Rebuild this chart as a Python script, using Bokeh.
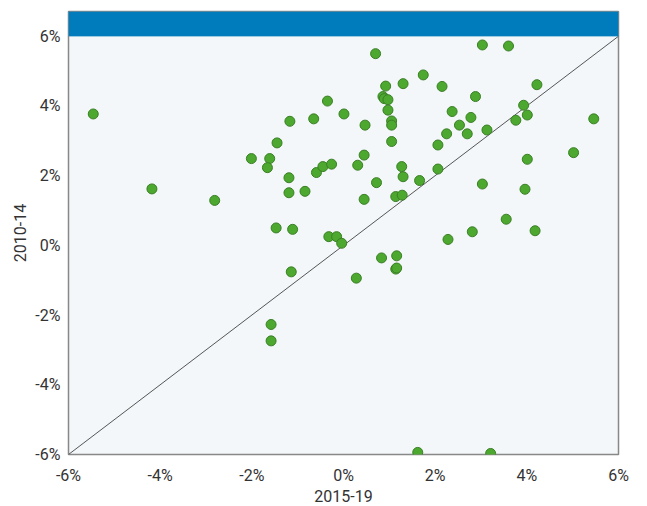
from bokeh.plotting import figure
from bokeh.models import Range1d, FixedTicker, BoxAnnotation, ColumnDataSource
from bokeh.embed import file_html
from bokeh.resources import INLINE

# 2015-19 (x) and 2010-14 (y) values, in percent
x_2015_19 = [-5.46, -4.18, -2.81, -2.01, -1.61, -1.66, -1.45, -1.17, -1.19, -1.19,
             -0.84, -1.47, -1.11, -1.14, -1.58, -1.58, -0.65, -0.59, -0.45, -0.35,
             0.01, -0.26, -0.32, -0.15, -0.04, 0.31, 0.28, 0.45, 0.47, 0.70,
             0.45, 0.72, 0.83, 0.86, 0.89, 0.97, 0.92, 0.97, 1.05, 1.05,
             1.05, 1.14, 1.16, 1.16, 1.14, 1.28, 1.27, 1.30, 1.30, 1.66,
             1.62, 1.74, 2.06, 2.06, 2.15, 2.25, 2.28, 2.37, 2.53, 2.70,
             2.78, 2.81, 2.88, 3.03, 3.03, 3.13, 3.21, 3.55, 3.60, 3.76,
             3.93, 3.96, 4.01, 4.01, 4.18, 4.22, 5.02, 5.46]
y_2010_14 = [3.77, 1.62, 1.29, 2.49, 2.49, 2.23, 2.94, 3.56, 1.94, 1.51,
             1.55, 0.50, 0.46, -0.76, -2.27, -2.74, 3.63, 2.09, 2.26, 4.14,
             3.77, 2.33, 0.25, 0.25, 0.06, 2.30, -0.94, 2.59, 3.45, 5.50,
             1.32, 1.80, -0.36, 4.27, 4.21, 4.18, 4.57, 3.88, 3.57, 3.45,
             2.98, -0.68, -0.65, -0.30, 1.40, 1.44, 2.26, 1.97, 4.64, 1.86,
             -5.94, 4.89, 2.88, 2.19, 4.56, 3.20, 0.17, 3.84, 3.45, 3.20,
             3.67, 0.39, 4.27, 5.75, 1.76, 3.31, -5.97, 0.75, 5.72, 3.59,
             4.02, 1.61, 3.74, 2.47, 0.42, 4.61, 2.66, 3.63]

ticks = [-6, -4, -2, 0, 2, 4, 6]
tick_labels = ["-6%", "-4%", "-2%", "0%", "2%", "4%", "6%"]
diag = [-6, 6]

FONT = "Roboto"
TXT = "#333333"

p = figure(width=639, height=506, output_backend="svg", toolbar_location=None,
           x_range=Range1d(-6, 6), y_range=Range1d(-6, 6.71),
           min_border_left=68, min_border_right=21, min_border_top=11, min_border_bottom=52)
p.background_fill_color = "#f3f7f9"
p.border_fill_color = "white"
p.outline_line_color = "#888888"
p.outline_line_width = 1.5
p.xgrid.grid_line_color = None
p.ygrid.grid_line_color = None

p.add_layout(BoxAnnotation(bottom=6, fill_color="#007bbb", fill_alpha=1.0,
                           line_color="#3d94c8", line_width=1))

p.line(diag, diag, line_color="#555555", line_width=1)

src = ColumnDataSource(dict(x=x_2015_19, y=y_2010_14))
p.scatter("x", "y", source=src, size=10, fill_color="#4ca82e", fill_alpha=1.0,
          line_color="#3b7f27", line_width=1)

labels = dict(zip(ticks, tick_labels))
for ax in (p.xaxis[0], p.yaxis[0]):
    ax.ticker = FixedTicker(ticks=ticks)
    ax.major_label_overrides = labels
    ax.axis_line_color = None
    ax.major_tick_line_color = None
    ax.minor_tick_line_color = None
    ax.major_tick_out = 0
    ax.major_tick_in = 0
    ax.major_label_text_font = FONT
    ax.major_label_text_font_size = "16px"
    ax.major_label_text_color = TXT
    ax.axis_label_text_font = FONT
    ax.axis_label_text_font_size = "16px"
    ax.axis_label_text_font_style = "normal"
    ax.axis_label_text_color = TXT

p.xaxis.axis_label = "2015-19"
p.yaxis.axis_label = "2010-14"
p.xaxis.major_label_standoff = 11
p.yaxis.major_label_standoff = 8
p.xaxis.axis_label_standoff = 2
p.yaxis.axis_label_standoff = 6

open("out.html", "w").write(file_html(p, INLINE))
